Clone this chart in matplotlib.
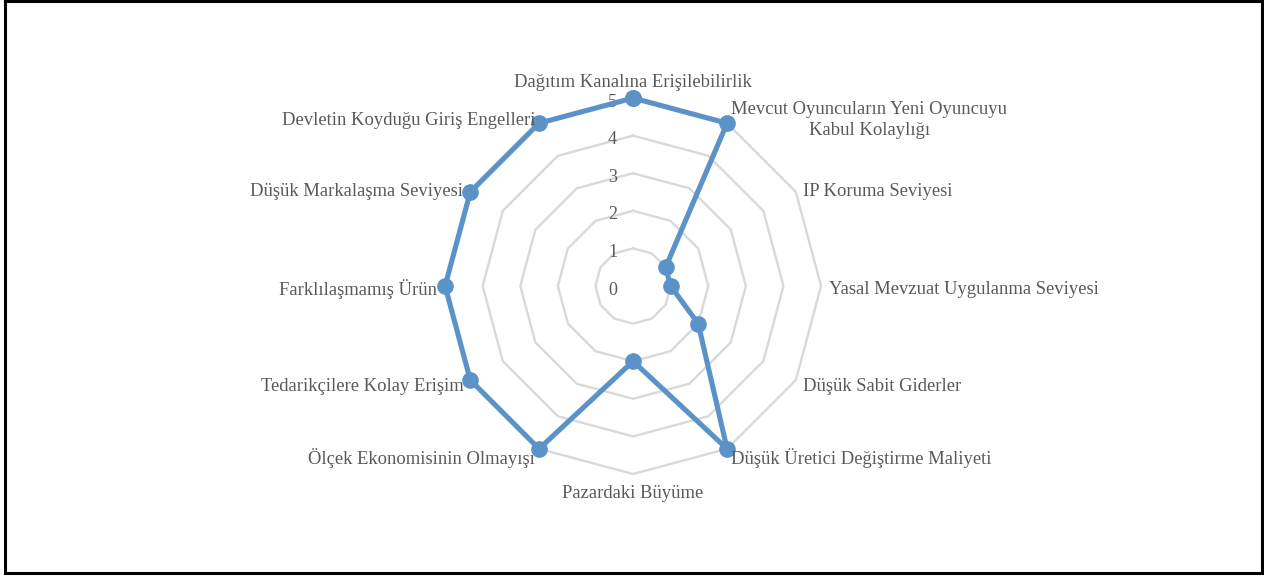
import matplotlib
matplotlib.use("Agg")
import matplotlib.pyplot as plt
import numpy as np
from matplotlib.patches import Rectangle
from matplotlib.transforms import offset_copy

categories = [
    "Dağıtım Kanalına Erişilebilirlik",
    "Mevcut Oyuncuların Yeni Oyuncuyu\nKabul Kolaylığı",
    "IP Koruma Seviyesi",
    "Yasal Mevzuat Uygulanma Seviyesi",
    "Düşük Sabit Giderler",
    "Düşük Üretici Değiştirme Maliyeti",
    "Pazardaki Büyüme",
    "Ölçek Ekonomisinin Olmayışı",
    "Tedarikçilere Kolay Erişim",
    "Farklılaşmamış Ürün",
    "Düşük Markalaşma Seviyesi",
    "Devletin Koyduğu Giriş Engelleri",
]
scores = [5, 5, 1, 1, 2, 5, 2, 5, 5, 5, 5, 5]
ring_levels = [0, 1, 2, 3, 4, 5]

LINE_BLUE = "#5B93C9"
GRID_GRAY = "#D9D9D9"
TEXT_GRAY = "#595959"

plt.rcParams["font.family"] = ["Liberation Serif", "DejaVu Serif"]

fig = plt.figure(figsize=(12.64, 5.77), dpi=100)
ax = fig.add_axes([0.3521, 0.1785, 0.2975, 0.6516], projection="polar")
ax.set_theta_zero_location("N")
ax.set_theta_direction(-1)
ax.set_ylim(0, max(ring_levels))
ax.set_axis_off()

n = len(categories)
angles = np.linspace(0, 2 * np.pi, n, endpoint=False)
closed = np.append(angles, angles[0])

# polygon grid rings
for lvl in ring_levels[1:]:
    ax.plot(closed, [lvl] * (n + 1), color=GRID_GRAY, lw=1.7, zorder=1, clip_on=False)

# data series
vals = np.append(scores, scores[0])
ax.plot(closed, vals, color=LINE_BLUE, lw=3.7, marker="o", markersize=11,
        zorder=3, clip_on=False, solid_joinstyle="round")

# value axis labels
for lvl in ring_levels:
    tr = offset_copy(ax.transData, fig=fig, x=-16, y=-4, units="dots")
    ax.text(0, lvl, str(lvl), transform=tr, ha="right", va="center",
            fontsize=13, color=TEXT_GRAY, zorder=2)

# category labels
rmax = max(ring_levels)
for ang, lab in zip(angles, categories):
    s, c = np.sin(ang), np.cos(ang)
    if abs(s) < 0.1:
        ha = "center"
        if c > 0:
            va, dx, dy = "bottom", 0, 7
        else:
            va, dx, dy = "top", 0, -11
    else:
        ha = "left" if s > 0 else "right"
        va = "center"
        dx = 8 * s
        dy = 7 * c - 3
    tr = offset_copy(ax.transData, fig=fig, x=dx, y=dy, units="dots")
    ax.text(ang, rmax, lab, transform=tr, ha=ha, va=va, multialignment="center",
            linespacing=1.35, fontsize=13.4, color=TEXT_GRAY, zorder=4, clip_on=False)

# chart border
fig.patches.append(Rectangle((5 / 1264, 4 / 577), 1257 / 1264, 572 / 577,
                             transform=fig.transFigure, fill=False,
                             edgecolor="black", linewidth=2.2))

fig.savefig("out.png", dpi=100)
